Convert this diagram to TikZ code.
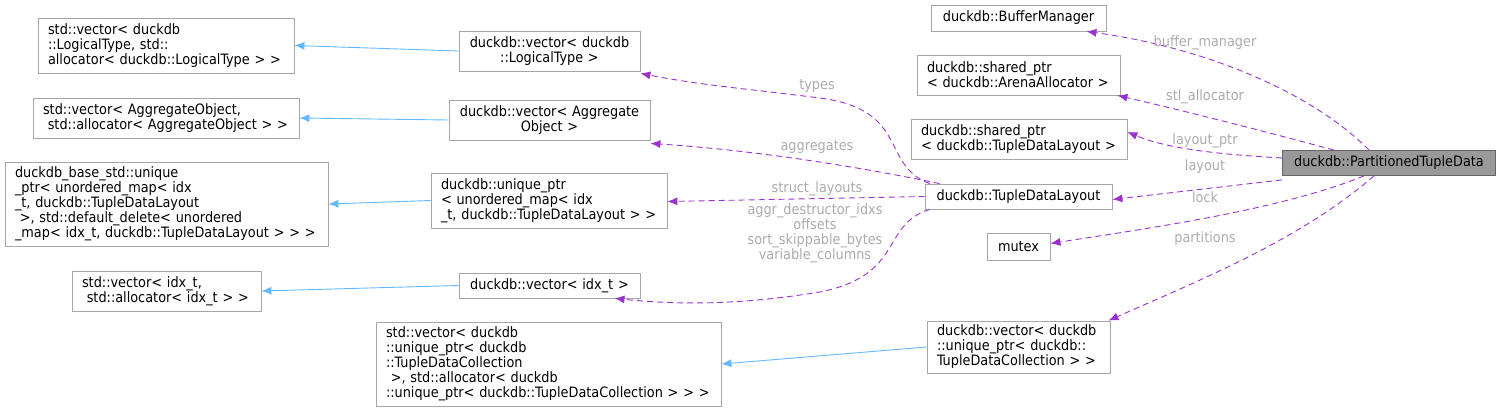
\documentclass[tikz,border=0pt]{standalone}
\usepackage{fontspec}
\setmainfont{DejaVu Sans Condensed}
\usetikzlibrary{arrows.meta,calc}
\begin{document}
\begin{tikzpicture}[x=1pt,y=-1pt,
  box/.style={draw=black!35,line width=0.8pt,inner xsep=0pt,inner ysep=0pt,font=\fontsize{14.3}{15}\selectfont,text=black},
  dep/.style={color={rgb,255:red,154;green,50;blue,205},dash pattern=on 6pt off 4pt,line width=0.9pt,-{Latex[length=10pt,width=8pt]}},
  inh/.style={color={rgb,255:red,99;green,184;blue,255},line width=0.9pt,-{Latex[length=10pt,width=8pt]}},
  lab/.style={text=black!33,font=\fontsize{14.3}{15}\selectfont,inner sep=0pt,align=center}]
\useasboundingbox (0,0) rectangle (1500,412);
\newcommand\bx[7][left]{\node[box,align=#1,text width=#5-#3-20,minimum width=#5-#3,minimum height=#6-#4] (#2) at ({(#3+#5)/2},{(#4+#6)/2}) {#7};}
\bx{A}{38}{18}{294}{73}{std::vector< duckdb\\::LogicalType, std::\\allocator< duckdb::LogicalType > >}
\bx{B}{33}{98}{299}{138}{std::vector< AggregateObject,\\ \ std::allocator< AggregateObject > >}
\bx{C}{5}{162}{328}{246}{duckdb\_base\_std::unique\\\_ptr< unordered\_map< idx\\\_t, duckdb::TupleDataLayout\\ \ >, std::default\_delete< unordered\\\_map< idx\_t, duckdb::TupleDataLayout > > >}
\bx{D}{72}{271}{261}{311}{std::vector< idx\_t,\\ \ std::allocator< idx\_t > >}
\bx{E}{376}{322}{721}{406}{std::vector< duckdb\\::unique\_ptr< duckdb\\::TupleDataCollection\\ \ >, std::allocator< duckdb\\::unique\_ptr< duckdb::TupleDataCollection > > >}
\bx[center]{F}{459}{31}{640}{71}{duckdb::vector< duckdb\\::LogicalType >}
\bx[center]{G}{449}{100}{650}{140}{duckdb::vector< Aggregate\\Object >}
\bx{H}{431}{173}{667}{228}{duckdb::unique\_ptr\\< unordered\_map< idx\\\_t, duckdb::TupleDataLayout > >}
\bx[center]{I}{459}{273}{640}{298}{duckdb::vector< idx\_t >}
\bx[center]{J}{925}{184}{1112}{209}{duckdb::TupleDataLayout}
\bx[center]{K}{931}{5}{1106}{31}{duckdb::BufferManager}
\bx{L}{917}{55}{1120}{95}{duckdb::shared\_ptr\\< duckdb::ArenaAllocator >}
\bx{M}{911}{119}{1127}{159}{duckdb::shared\_ptr\\< duckdb::TupleDataLayout >}
\bx[center]{N}{987}{233}{1050}{260}{mutex}
\bx{O}{927}{321}{1110}{373}{duckdb::vector< duckdb\\::unique\_ptr< duckdb::\\TupleDataCollection > >}
\node[box,fill=black!40,minimum width=213,minimum height=25,draw=black!60] (P) at (1389,163) {duckdb::PartitionedTupleData};
% inheritance
\draw[inh] (F.west) -- (A.east);
\draw[inh] (G.west) -- (B.east);
\draw[inh] (H.west) -- (C.east);
\draw[inh] (I.west) -- (D.east);
\draw[inh] (O.west) -- (E.east);
% usage from P
\draw[dep] ([xshift=-20]P.north) .. controls (1320,100) and (1220,50) .. ([xshift=-20]K.south east);
\draw[dep] ([xshift=-55]P.north) .. controls (1260,130) and (1180,110) .. ([xshift=-3]L.south east);
\draw[dep] ([yshift=5]P.west) .. controls (1230,155) and (1170,150) .. ([yshift=7]M.east);
\draw[dep] ([yshift=-4]P.south west) -- ([yshift=-3]J.east);
\draw[dep] ([xshift=-25]P.south) .. controls (1280,210) and (1150,228) .. ([yshift=3]N.east);
\draw[dep] ([xshift=-15]P.south) .. controls (1300,240) and (1200,280) .. ([xshift=-2]O.north east);
% usage from J
\draw[dep] ([xshift=5]J.north west) .. controls (880,165) and (910,110) .. (820,98) .. controls (740,88) and (700,85) .. ([yshift=-2]F.south east);
\draw[dep] ([xshift=15]J.north west) .. controls (850,165) and (750,150) .. ([yshift=-3]G.south east);
\draw[dep] (J.west) -- ([yshift=-1]H.east);
\draw[dep] ([xshift=5]J.south west) .. controls (880,225) and (905,275) .. (820,292) .. controls (740,305) and (680,305) .. ([xshift=65]I.south);
% labels
\node[lab] at (1205,43) {buffer\_manager};
\node[lab] at (1205,97) {stl\_allocator};
\node[lab] at (1205,141) {layout\_ptr};
\node[lab] at (1205,167) {layout};
\node[lab] at (1205,197) {lock};
\node[lab] at (1205,239) {partitions};
\node[lab] at (817,86) {types};
\node[lab] at (817,147) {aggregates};
\node[lab] at (817,189) {struct\_layouts};
\node[lab] at (815,233) {aggr\_destructor\_idxs\\offsets\\sort\_skippable\_bytes\\variable\_columns};
\end{tikzpicture}
\end{document}
